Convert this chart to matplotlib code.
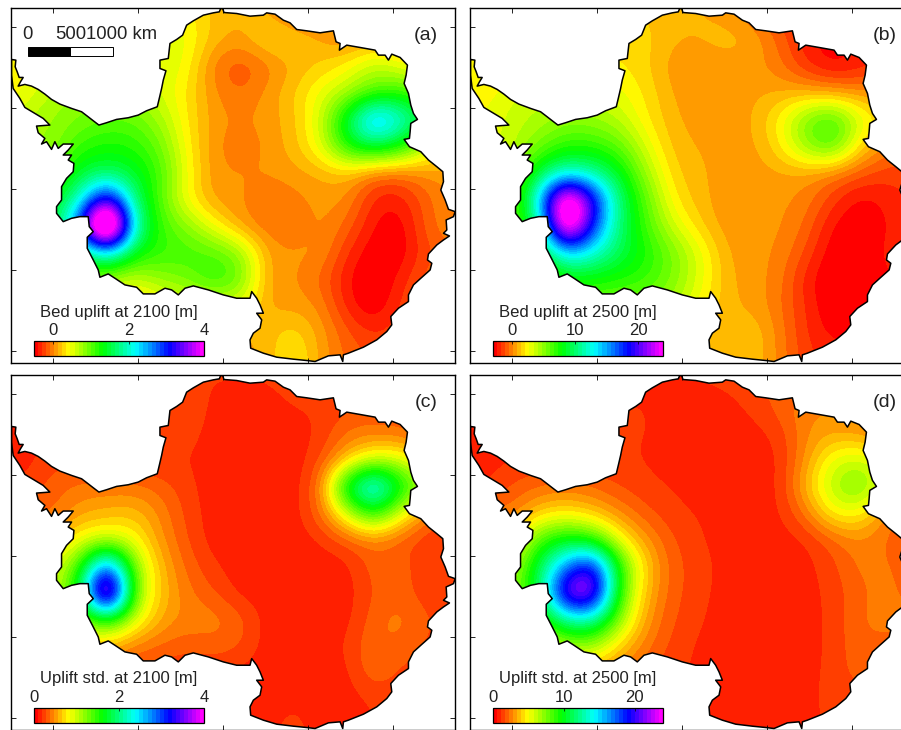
import numpy as np
import matplotlib
matplotlib.use("Agg")
import matplotlib.pyplot as plt
from matplotlib.colors import LinearSegmentedColormap, Normalize
from matplotlib.patches import Polygon, Rectangle

plt.rcParams['font.family'] = ['Liberation Sans', 'DejaVu Sans']

# Coastline (raster units, converted to km below)
coast_x = [35,48,46,52,58,70,62,55,75,95,115,135,155,180,215,245,262,280,297,320,350,385,415,440,472,478,485,490,498,480,480,505,510,530,548,560,580,610,640,658,662,668,672,710,750,790,800,825,850,870,890,920,960,1000,1008,1020,1018,1040,1080,1125,1135,1155,1165,1175,1200,1222,1218,1212,1225,1232,1240,1252,1232,1230,1228,1212,1228,1262,1285,1310,1328,1330,1322,1335,1345,1365,1360,1338,1340,1330,1348,1330,1310,1285,1282,1295,1290,1262,1240,1225,1225,1195,1172,1175,1160,1130,1090,1045,1030,1028,1020,985,945,920,880,830,790,752,750,760,780,785,770,790,780,770,755,750,710,670,625,580,555,535,515,495,465,430,410,375,345,325,300,295,280,262,262,280,268,265,240,215,190,170,170,185,185,200,220,222,205,215,190,205,220,190,175,165,155,140,125,135,115,110,150,130,105,75,60,40,35,35]
coast_y = [178,180,200,215,232,232,245,258,253,258,268,282,298,312,325,335,348,362,375,368,358,353,345,332,320,295,265,240,212,205,180,175,130,118,105,75,62,45,38,35,25,25,37,40,48,45,38,42,60,68,88,92,98,92,125,130,150,135,142,150,165,165,180,162,172,195,225,250,280,315,340,358,370,395,415,418,440,455,480,500,515,545,570,600,628,635,650,660,690,700,708,720,735,762,780,790,810,835,855,885,905,925,950,975,995,1020,1042,1060,1065,1085,1065,1068,1085,1082,1078,1072,1060,1045,1020,1000,985,960,940,940,915,895,875,895,895,885,870,858,865,885,870,865,882,882,862,855,835,822,832,810,780,745,712,695,680,650,650,655,665,640,620,600,560,535,515,490,480,465,465,450,432,432,445,425,448,425,432,415,398,378,375,355,340,322,295,265,225,178]

# Value grids (columns: west to east, rows: north to south)
bed_2100 = [
 [.5,.5,.5,.5,.5,.5,.5,.4,.2,.15,.15,-.1,-.1,0,0,0,0,0],
 [.6,.6,.6,.6,.6,.6,.6,.5,.2,.1,.35,.3,.15,0,.1,.1,.1,.1],
 [.4,.4,.6,.6,.6,.6,.6,.45,-.05,-.2,-.05,.15,.25,.4,.7,.5,.3,.2],
 [.3,.5,.7,.8,.8,.7,.55,.35,.05,-.1,.08,.25,.5,.7,1.0,1.15,.9,.5],
 [.5,.7,.8,.9,1.0,1.0,.75,.35,.08,.03,.08,.2,.55,1.55,2.8,2.2,1.5,.8],
 [.7,.75,.8,1.15,1.25,1.2,.95,.4,.05,-.07,.05,.2,.5,1.3,1.6,1.3,.6,.3],
 [.9,1.0,1.0,1.45,1.6,1.45,1.1,.45,.05,.05,.05,.1,.15,.2,-.1,-.1,.05,.1],
 [1.3,1.3,1.3,2.0,3.6,1.7,1.0,.4,.08,.05,-.08,-.02,.08,.05,-.35,-.38,-.1,.05],
 [1.4,1.4,1.4,3.0,6.5,2.0,1.1,.85,.45,.08,-.08,-.06,.08,-.1,-.42,-.5,-.1,.05],
 [1.5,1.5,1.5,1.5,2.2,1.35,1.15,1.1,1.05,.85,.1,.05,.08,-.3,-.5,-.5,-.2,-.1],
 [.8,.8,.8,.8,.7,.55,.8,.9,1.2,1.0,.08,.05,-.1,-.4,-.55,-.35,-.1,-.1],
 [.3,.3,.3,.3,.3,.2,.4,.5,.5,.5,.1,.1,.03,-.35,-.55,-.25,-.1,-.1],
 [.1,.1,.1,.1,.1,.1,.1,.1,.1,.1,.2,.35,.1,-.15,-.3,-.2,-.2,-.1],
 [.1,.1,.1,.1,.1,.1,.1,.1,.1,.1,.15,.45,.1,-.1,-.2,-.2,-.2,-.1],
]
bed_2500 = [
 [1.5,1.5,1.5,1.5,1.5,1.5,1.5,1.5,1.0,.9,.5,-.5,-1.5,-2,-2,-2,-2,-2],
 [2,2,2,2,2,2,2.0,1.8,.9,.9,1.4,.9,-.6,-2.2,-2.8,-2,-2,-2],
 [2.2,2.2,2.2,2.2,2.2,2.2,2.2,1.7,.4,.2,.3,.5,-.2,-1.8,-2.8,-2.3,-1.5,-1],
 [2.4,2.4,3.3,3.8,3.8,3.4,3.0,2.0,.8,.2,.35,.7,.9,.9,.6,.4,.2,0],
 [2.8,2.8,3.8,4.2,5,4.8,4.0,2.2,1,.5,.4,.8,2.4,5.5,7.2,3.5,2,0],
 [3,3,3.8,5.5,7,7,6,3.2,1.2,.8,.5,.6,2.0,5.0,6.8,1.8,0,-.5],
 [4,4,4,9,12,11,8.5,4.5,1.6,1,.5,.5,.7,.6,-.2,-.9,-1.5,-1.5],
 [5,5,5,14,30,20,10,6,2.2,1.1,.35,.3,.4,0,-1.5,-2.8,-2.2,-1.5],
 [5,5,5,10,30,18,10,6.5,3.5,1.6,.4,.4,.4,-.5,-2.6,-3,-2.5,-1.5],
 [8,8,8,8,14,12.5,9.5,7.5,5.5,3.2,.8,.4,.2,-1.2,-3,-3,-2.2,-1.5],
 [5,5,5,5,7.5,7.5,7.2,6.8,5.3,3.2,1.0,.5,0,-2.2,-3.2,-3,-2.5,-2],
 [5,5,5,5,5.5,5.5,5.3,5,4.5,2.5,1.0,.7,-.3,-1.8,-3.2,-3.2,-3,-2],
 [1,1,1,1,1,1,1,1,1,1,1,1.6,0,-1.8,-2.6,-2.5,-2.5,-2],
 [1,1,1,1,1,1,1,1,1,1,1,1.5,0,-1.5,-2,-2,-2,-2],
]
std_2100 = [
 [.2,.2,.2,.2,.2,.2,.2,.2,.2,.2,.2,.25,.25,.25,.25,.25,.25,.25],
 [.2,.2,.2,.2,.2,.2,.2,.3,.15,.13,.13,.2,.2,.25,.3,.3,.3,.3],
 [.15,.15,.2,.2,.2,.2,.2,.25,.13,.13,.13,.13,.2,.4,.4,.35,.3,.3],
 [.15,.15,.25,.25,.25,.2,.15,.2,.13,.13,.13,.13,.25,.6,.95,.95,.6,.4],
 [.2,.2,.35,.4,.4,.4,.35,.22,.13,.13,.13,.13,.35,1.9,2.8,1.7,1.2,.6],
 [.35,.35,.35,.55,.6,.65,.45,.25,.13,.13,.13,.13,.35,.95,1.6,.9,.4,.3],
 [.6,.6,.6,.85,.95,.85,.5,.28,.13,.13,.13,.13,.18,.3,.4,.3,.2,.15],
 [.9,.9,.9,1.4,3.2,1.2,.6,.35,.2,.13,.13,.13,.13,.14,.35,.35,.2,.2],
 [.9,.9,.9,1.7,5.0,1.2,.65,.4,.3,.14,.13,.13,.13,.13,.3,.35,.2,.2],
 [1.1,1.1,1.1,1.1,1.5,.95,.55,.45,.45,.35,.13,.13,.13,.14,.35,.45,.3,.25],
 [.6,.6,.6,.6,.6,.4,.35,.3,.35,.3,.13,.13,.13,.2,.4,.35,.25,.25],
 [.25,.25,.25,.25,.25,.25,.22,.2,.18,.15,.13,.13,.13,.15,.4,.25,.25,.25],
 [.13,.13,.13,.13,.13,.13,.13,.13,.13,.13,.13,.18,.13,.13,.2,.2,.2,.2],
 [.15,.15,.15,.15,.15,.15,.15,.15,.15,.15,.15,.25,.13,.15,.2,.2,.2,.2],
]
std_2500 = [
 [.9,.9,.9,.9,.9,.9,.9,.9,1.0,1.2,1.3,1.5,2,2,2,2,2,2],
 [1.2,1.2,1.2,1.2,1.2,1.2,1.2,1.2,.85,.85,.9,1.3,2.0,2.8,2.8,2.3,2,2],
 [.9,.9,.9,.9,.9,.9,1.2,1.2,.85,.85,.85,.85,1.3,2.8,3.3,3.0,2.5,2],
 [.9,.9,1.1,1.2,1.2,1.1,1.2,1.1,.85,.85,.85,.85,.95,3,5.5,6,5,3],
 [1,1,1.8,2.2,2.4,2.2,1.6,1.3,1.1,.85,.85,.85,.95,3.8,6.5,8,5,3],
 [2.4,2.4,2.4,4,4.5,3.8,2.8,1.8,1.3,1.1,.85,.85,.95,2.4,5,5,2.5,2],
 [4,4,4,8.5,10,9,5,3,1.7,1.2,.85,.85,.85,1.0,2,2.8,2.2,1.5],
 [6,6,6,11,17,21,9,4,1.9,1.4,.9,.85,.85,.9,1.5,2.5,2.4,2],
 [6.5,6.5,6.5,11,23,24,8.5,3.5,1.9,1.3,.9,.85,.85,.9,1.3,2.2,2.5,2],
 [8,8,8,8,12.5,13,7,3,1.7,1.2,.85,.85,.85,.85,1.3,2.3,2.6,2.4],
 [5,5,5,5,6.5,6.5,4,2.4,1.5,1.0,.85,.8,.55,.85,1.3,2.2,2,2],
 [3.2,3.2,3.2,3.2,3.2,3.2,2.4,1.7,1.3,1.0,.85,.85,.5,.85,1.4,2,2,2],
 [.9,.9,.9,.9,.9,.9,.9,.9,.9,.9,.85,.85,.85,.95,1.4,1.4,1.4,1.4],
 [.9,.9,.9,.9,.9,.9,.9,.9,.9,.9,.9,1,.9,1,1.2,1.2,1.2,1.2],
]

panel_letters = ['(a)', '(b)', '(c)', '(d)']
panel_titles = ['Bed uplift at 2100 [m]', 'Bed uplift at 2500 [m]',
                'Uplift std. at 2100 [m]', 'Uplift std. at 2500 [m]']
scale_ranges = [(-0.5, 4), (-3, 24), (0, 4), (0, 24)]
scale_ticks = [[0, 2, 4], [0, 10, 20], [0, 2, 4], [0, 10, 20]]
grids = [bed_2100, bed_2500, std_2100, std_2500]

W, H = 901, 730
fig = plt.figure(figsize=(W / 100, H / 100), dpi=100)
origins = [(10.5, 7.5), (469.5, 7.5), (10.5, 374.5), (469.5, 374.5)]
PW, PH = 445.0, 355.0


def to_km_x(v):
    return (np.asarray(v, float) - 669.0) * 1000 / 254.3


def to_km_y(v):
    return (567.0 - np.asarray(v, float)) * 1000 / 243.0


def px_axes(x, y, w, h):
    return fig.add_axes([x / W, 1 - (y + h) / H, w / W, h / H])


cmap = LinearSegmentedColormap.from_list(
    'uplift', ['#ff0000', '#ffff00', '#00ff00', '#00ffff', '#0000ff', '#ff00ff'], N=42)
coast = np.column_stack([to_km_x(coast_x), to_km_y(coast_y)])

for k in range(4):
    ox, oy = origins[k]
    ax = px_axes(ox, oy, PW, PH)
    norm = Normalize(*scale_ranges[k])
    extent = [to_km_x(-40), to_km_x(1400), to_km_y(1120), to_km_y(0)]
    im = ax.imshow(np.array(grids[k], float), extent=extent, origin='upper', aspect='auto',
                   cmap=cmap, norm=norm, interpolation='bicubic', interpolation_stage='data')
    land = Polygon(coast, closed=True, facecolor='none', edgecolor='black', lw=1.1,
                   joinstyle='round', zorder=3)
    ax.add_patch(land)
    im.set_clip_path(land)
    ax.set_xlim(-2505, 2741)
    ax.set_ylim(-2144, 2243)
    ax.set_xticks([-2000, -1000, 0, 1000, 2000])
    ax.set_yticks([-2000, -1000, 0, 1000, 2000])
    ax.set_xticklabels([])
    ax.set_yticklabels([])
    ax.tick_params(direction='in', length=3.5, width=0.6, top=True, right=True)
    for s in ax.spines.values():
        s.set_linewidth(1.0)
    ax.text((1278 - 32) / 1334, 1 - (106 - 22) / 1066, panel_letters[k], transform=ax.transAxes,
            fontsize=14, ha='center', va='center', color='#222222')

    cax = px_axes(ox + 23.5, oy + 333, 170.3, 15.2)
    cb = fig.colorbar(im, cax=cax, orientation='horizontal', ticks=scale_ticks[k])
    cb.ax.xaxis.set_ticks_position('top')
    cb.ax.tick_params(direction='in', length=2, width=0.5, labelsize=12, pad=1.5, labelcolor='#222222')
    cb.outline.set_linewidth(0.9)
    ax.text(108.5 / PW, 1 - 304.5 / PH, panel_titles[k], transform=ax.transAxes,
            fontsize=12, ha='center', va='center', color='#222222')

    if k == 0:
        ax.add_patch(Rectangle((-2300, 1646), 500, 103, facecolor='black', edgecolor='black', lw=0.7, zorder=4))
        ax.add_patch(Rectangle((-1800, 1646), 500, 103, facecolor='white', edgecolor='black', lw=0.7, zorder=4))
        ax.text(-2300, 1800, '0', fontsize=13.3, ha='center', va='bottom', color='#222222')
        ax.text(-1800, 1800, '500', fontsize=13.3, ha='center', va='bottom', color='#222222')
        ax.text(-1610, 1800, '1000 km', fontsize=13.3, ha='left', va='bottom', color='#222222')

fig.savefig('out.png', dpi=100)
